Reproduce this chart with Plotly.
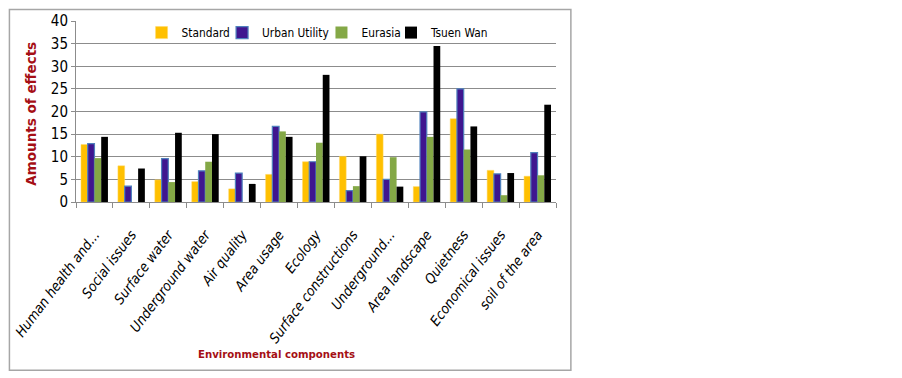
import plotly.graph_objects as go

categories = ["Human health and...", "Social issues", "Surface water", "Underground water",
              "Air quality", "Area usage", "Ecology", "Surface constructions",
              "Underground...", "Area landscape", "Quietness", "Economical issues",
              "soil of the area"]
standard = [12.7, 8.0, 4.9, 4.5, 2.9, 6.1, 8.9, 10.1, 15.0, 3.4, 18.4, 7.0, 5.7]
urban_utility = [12.9, 3.5, 9.6, 6.9, 6.4, 16.7, 8.9, 2.5, 5.0, 19.9, 25.0, 6.2, 10.9]
eurasia = [9.7, 0, 4.4, 8.9, 0, 15.6, 13.1, 3.5, 9.9, 14.4, 11.6, 1.5, 5.9]
tsuen_wan = [14.4, 7.4, 15.3, 15.0, 4.0, 14.4, 28.1, 10.1, 3.4, 34.5, 16.7, 6.4, 21.5]
y_ticks = [0, 5, 10, 15, 20, 25, 30, 35, 40]

FONT = "DejaVu Sans Condensed, Liberation Sans, sans-serif"
RED = "#A50F15"

series = [
    ("Standard", standard, dict(color="#FFC000", line=dict(color="#FFD966", width=0.5)), "legend", 0.1366),
    ("Urban Utility", urban_utility, dict(color="#3F168F", line=dict(color="#4F81BD", width=1.2)), "legend2", 0.3043),
    ("Eurasia", eurasia, dict(color="#84A846", line=dict(width=0)), "legend3", 0.5114),
    ("Tsuen Wan", tsuen_wan, dict(color="#000000", line=dict(width=0)), "legend4", 0.6563),
]

fig = go.Figure()
legend_layout = {}
for name, vals, marker, leg, lx in series:
    fig.add_trace(go.Bar(name=name, x=categories, y=vals, marker=marker, legend=leg))
    legend_layout[leg] = dict(orientation="h", x=lx, y=0.936, xanchor="left", yanchor="middle",
                              font=dict(family=FONT, size=11.8, color="black"),
                              bgcolor="rgba(0,0,0,0)", itemwidth=30)

fig.update_layout(
    width=902, height=378,
    margin=dict(l=73, r=346, t=15, b=176),
    paper_bgcolor="white", plot_bgcolor="white",
    barmode="group", bargap=0.27, bargroupgap=0,
    font=dict(family=FONT, color="black"),
    showlegend=True,
    xaxis=dict(showgrid=False, showline=True, linecolor="#8C8C8C", linewidth=1,
               ticks="outside", tickson="boundaries", ticklen=5, tickcolor="#8C8C8C",
               tickangle=-53, ticklabelstandoff=18,
               tickfont=dict(family=FONT, size=14, style="italic", color="black")),
    yaxis=dict(range=[0, 40], tickvals=y_ticks, showgrid=True, gridcolor="#8C8C8C",
               gridwidth=1, showline=True, linecolor="#8C8C8C", linewidth=1,
               ticks="outside", ticklen=4, tickcolor="#8C8C8C",
               tickfont=dict(family=FONT, size=15, color="black"), zeroline=False),
    annotations=[
        dict(text="<b>Amounts of effects</b>", xref="paper", yref="paper",
             x=-0.093, y=0.49, xanchor="center", yanchor="middle", textangle=-90,
             showarrow=False,
             font=dict(family="DejaVu Sans, sans-serif", size=13.5, color=RED)),
        dict(text="<b>Environmental components</b>", xref="paper", yref="paper",
             x=0.417, y=-0.845, xanchor="center", yanchor="middle", showarrow=False,
             font=dict(family=FONT, size=11.3, color=RED)),
    ],
    shapes=[dict(type="rect", xref="paper", yref="paper", x0=-0.1387, x1=1.031,
                 y0=-0.930, y1=1.064, line=dict(color="#A6A6A6", width=1.5),
                 layer="below")],
    **legend_layout,
)

fig.write_html("out.html", config={"displayModeBar": False},
               post_script="document.body.style.margin='0px';")
